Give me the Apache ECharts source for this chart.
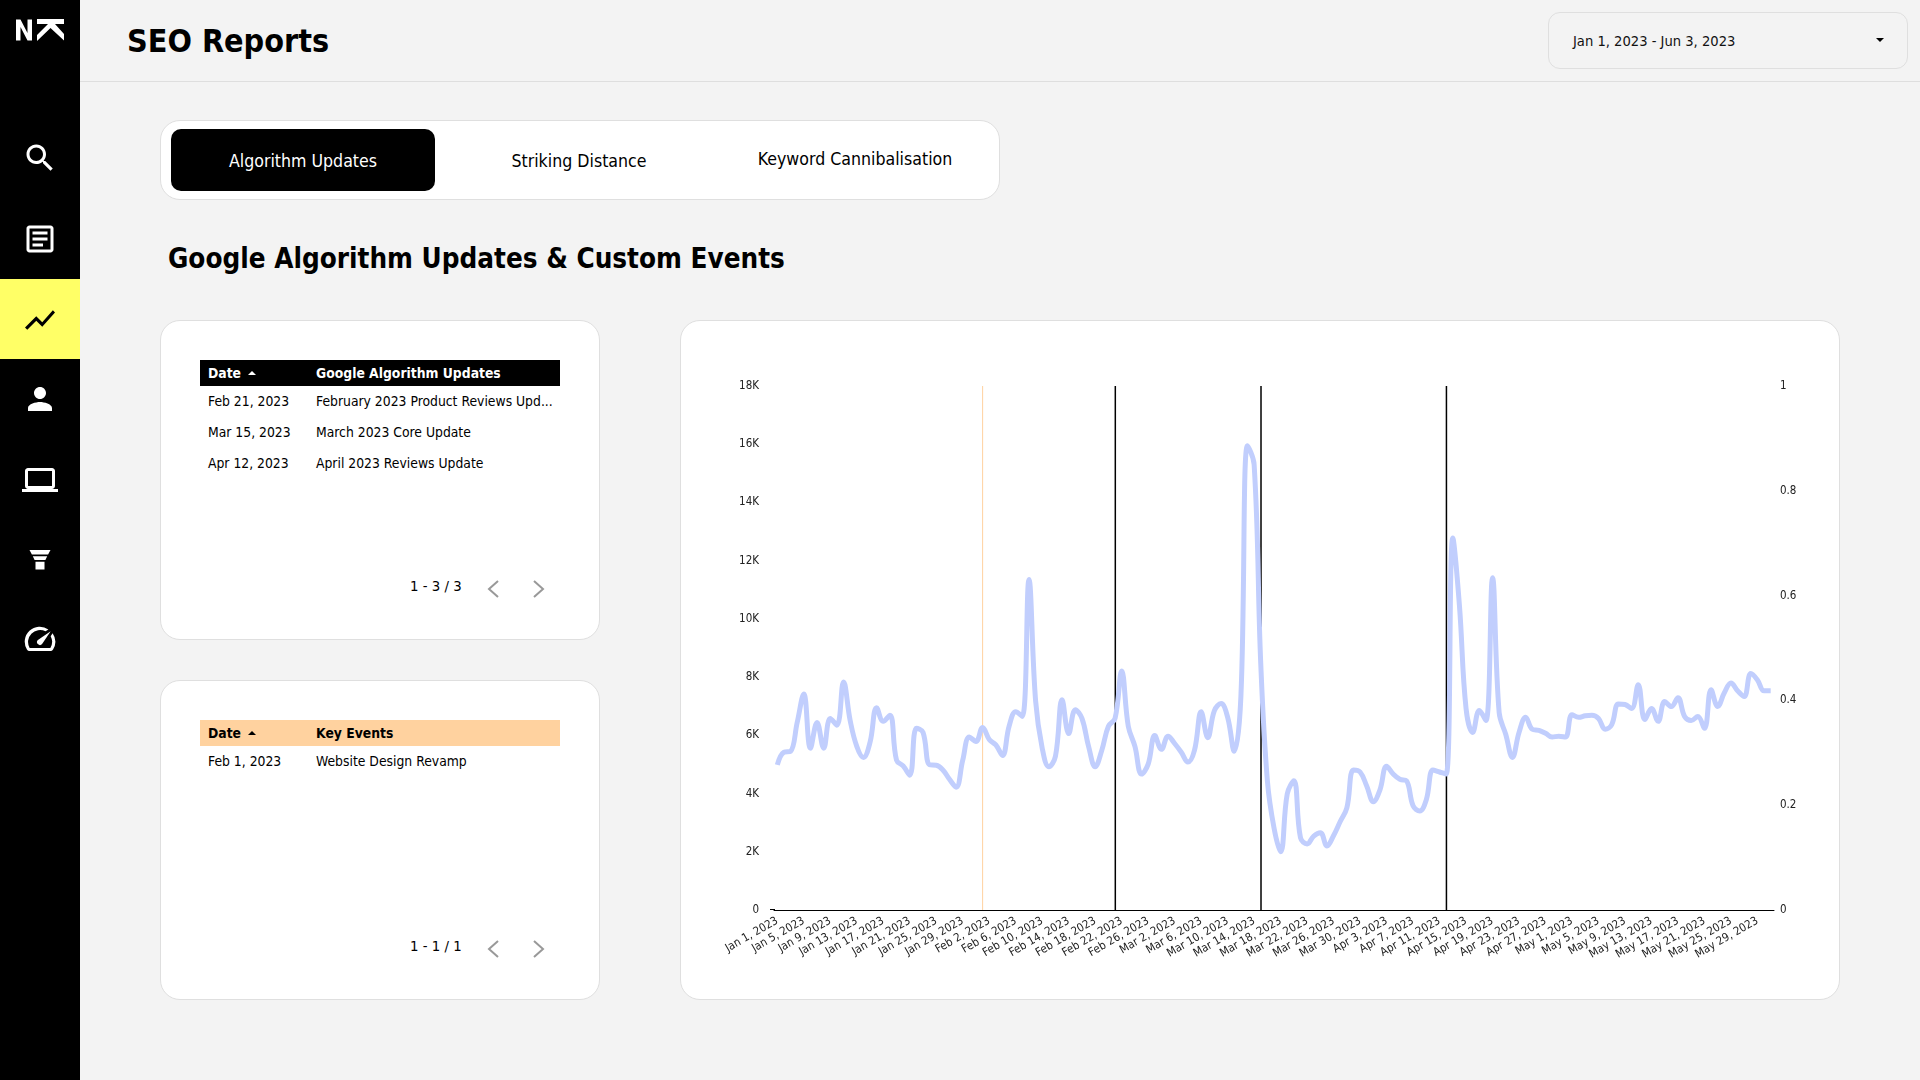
<!DOCTYPE html>
<html><head><meta charset="utf-8">
<script src="https://cdn.jsdelivr.net/npm/echarts@6/dist/echarts.min.js"></script>
<style>
html,body{margin:0;padding:0;width:1920px;height:1080px;overflow:hidden;background:#f3f3f3;font-family:'DejaVu Sans Condensed','DejaVu Sans',sans-serif;color:#000}
.a{position:absolute;white-space:nowrap}
.card{position:absolute;background:#fff;border:1.5px solid #dfdfdf;box-sizing:border-box;border-radius:20px}
.ic{position:absolute;left:22px;width:36px;height:36px;fill:#fff}
.cell{font-size:13.8px;line-height:18px}
.th{font-size:13.8px;font-weight:bold;line-height:18px}
.pg{font-size:14.8px;line-height:18px}
</style></head><body>
<div class="a" style="left:0;top:0;width:80px;height:1080px;background:#000"></div>
<div class="a" style="left:0;top:279px;width:80px;height:80px;background:#ffff66"></div>
<svg class="a" style="left:15px;top:18px" width="50" height="24" viewBox="0 0 50 24" fill="#fff">
<path d="M1 1.500h4.500l7 13.500V1.500h4.500v21h-4.500L5.500 9v13.500H1z"/><path d="M22 1h27v5H40l9 10v6.500L35.500 10 22 23v-6l11-11H22z"/></svg>
<svg class="ic" style="top:140px" viewBox="0 0 24 24"><path d="M15.500 14h-.79l-.28-.27C15.410 12.590 16 11.110 16 9.500 16 5.910 13.090 3 9.500 3S3 5.910 3 9.500 5.910 16 9.500 16c1.610 0 3.090-.59 4.230-1.570l.27.28v.79l5 4.990L20.490 19l-4.990-5zm-6 0C7.010 14 5 11.990 5 9.500S7.010 5 9.500 5 14 7.010 14 9.500 11.990 14 9.500 14z"/></svg>
<svg class="ic" style="top:221px" viewBox="0 0 24 24"><path d="M19 5v14H5V5h14m0-2H5c-1.100 0-2 .9-2 2v14c0 1.100.9 2 2 2h14c1.100 0 2-.9 2-2V5c0-1.100-.9-2-2-2zM14 17H7v-2h7v2zm3-4H7v-2h10v2zm0-4H7V7h10v2z"/></svg>
<svg class="ic" style="top:302px;fill:#000" viewBox="0 0 24 24"><path d="M3.500 18.490l6-6.010 4 4L22 6.920l-1.410-1.410-7.090 7.970-4-4L2 16.990z"/></svg>
<svg class="ic" style="top:381px" viewBox="0 0 24 24"><path d="M12 12c2.210 0 4-1.790 4-4s-1.790-4-4-4-4 1.790-4 4 1.790 4 4 4zm0 2c-2.670 0-8 1.340-8 4v2h16v-2c0-2.660-5.330-4-8-4z"/></svg>
<svg class="ic" style="top:462px" viewBox="0 0 24 24"><path d="M20 18c1.100 0 1.990-.9 1.990-2L22 6c0-1.100-.9-2-2-2H4c-1.100 0-2 .9-2 2v10c0 1.100.9 2 2 2H0v2h24v-2h-4zM4 6h16v10H4V6z"/></svg>
<svg class="ic" style="top:541px" viewBox="0 0 24 24"><path d="M5 6h14l-1.600 3H6.600zM7.200 10.200h9.600l-1.200 2.400H8.400zM9 13.800h6V19H9z"/></svg>
<svg class="ic" style="top:621px" viewBox="0 0 24 24"><path d="M20.400 8.200l-1.300 1.900a8 8 0 0 1-.2 7.900H5.100A8 8 0 0 1 15.700 6.900l1.900-1.300A10 10 0 0 0 3.300 19a2 2 0 0 0 1.800 1h13.800a2 2 0 0 0 1.800-1 10 10 0 0 0-.3-10.800z"/><path d="M10.600 15.400a2 2 0 0 0 2.800 0l5.700-8.500-8.500 5.700a2 2 0 0 0 0 2.800z"/></svg>

<div class="a" style="left:80px;top:81px;width:1840px;height:1px;background:#dedede"></div>
<div class="a" id="pageTitle" style="left:127px;top:21px;font-size:32px;font-weight:bold;line-height:40px">SEO Reports</div>
<div class="card" style="left:1548px;top:12px;width:360px;height:57px;border-radius:12px;background:#f3f3f3"></div>
<div class="a" style="left:1573px;top:32px;font-size:14.6px;line-height:18px;color:#111">Jan 1, 2023 - Jun 3, 2023</div>
<div class="a" style="left:1876px;top:38px;width:0;height:0;border-left:4px solid transparent;border-right:4px solid transparent;border-top:4px solid #000"></div>

<div class="card" style="left:160px;top:120px;width:840px;height:80px"></div>
<div class="a" style="left:171px;top:129px;width:264px;height:62px;background:#000;border-radius:10px"></div>
<div class="a" style="left:171px;top:150px;width:264px;text-align:center;color:#fff;font-size:17.6px;line-height:22px">Algorithm Updates</div>
<div class="a" style="left:447px;top:150px;width:264px;text-align:center;font-size:17.6px;line-height:22px">Striking Distance</div>
<div class="a" style="left:723px;top:148px;width:264px;text-align:center;font-size:17.6px;line-height:22px">Keyword Cannibalisation</div>
<div class="a" style="left:168px;top:241px;font-size:27.6px;font-weight:bold;line-height:36px">Google Algorithm Updates &amp; Custom Events</div>

<div class="card" style="left:160px;top:320px;width:440px;height:320px"></div>
<div class="a" style="left:200px;top:360px;width:360px;height:26px;background:#000"></div>
<div class="a th" style="left:208px;top:364px;color:#fff">Date</div>
<div class="a" style="left:248px;top:371px;width:0;height:0;border-left:4px solid transparent;border-right:4px solid transparent;border-bottom:4px solid #fff"></div>
<div class="a th" style="left:316px;top:364px;color:#fff">Google Algorithm Updates</div>
<div id="algoRows"></div>
<div class="a pg" style="left:410px;top:577px">1 - 3 / 3</div>
<svg class="a" style="left:485px;top:578px" width="64" height="22" fill="none" stroke="#999" stroke-width="2"><path d="M13 3l-9 8 9 8"/><path d="M49 3l9 8-9 8"/></svg>

<div class="card" style="left:160px;top:680px;width:440px;height:320px"></div>
<div class="a" style="left:200px;top:720px;width:360px;height:26px;background:#ffd29f"></div>
<div class="a th" style="left:208px;top:724px">Date</div>
<div class="a" style="left:248px;top:731px;width:0;height:0;border-left:4px solid transparent;border-right:4px solid transparent;border-bottom:4px solid #000"></div>
<div class="a th" style="left:316px;top:724px">Key Events</div>
<div id="eventRows"></div>
<div class="a pg" style="left:410px;top:937px">1 - 1 / 1</div>
<svg class="a" style="left:485px;top:938px" width="64" height="22" fill="none" stroke="#999" stroke-width="2"><path d="M13 3l-9 8 9 8"/><path d="M49 3l9 8-9 8"/></svg>

<div class="card" style="left:680px;top:320px;width:1160px;height:680px"></div>
<div class="a" style="left:770px;top:909px;width:5px;height:1px;background:#000"></div>
<div id="chart" class="a" style="left:681px;top:321px;width:1159px;height:679px"></div>
<script>
const categories=[
'Jan 1, 2023','Jan 2, 2023','Jan 3, 2023','Jan 4, 2023','Jan 5, 2023','Jan 6, 2023','Jan 7, 2023','Jan 8, 2023','Jan 9, 2023','Jan 10, 2023','Jan 11, 2023','Jan 12, 2023','Jan 13, 2023','Jan 14, 2023','Jan 15, 2023','Jan 16, 2023','Jan 17, 2023','Jan 18, 2023','Jan 19, 2023','Jan 20, 2023','Jan 21, 2023','Jan 22, 2023','Jan 23, 2023','Jan 24, 2023','Jan 25, 2023','Jan 26, 2023','Jan 27, 2023','Jan 28, 2023','Jan 29, 2023','Jan 30, 2023','Jan 31, 2023',
'Feb 1, 2023','Feb 2, 2023','Feb 3, 2023','Feb 4, 2023','Feb 5, 2023','Feb 6, 2023','Feb 7, 2023','Feb 8, 2023','Feb 9, 2023','Feb 10, 2023','Feb 11, 2023','Feb 12, 2023','Feb 13, 2023','Feb 14, 2023','Feb 15, 2023','Feb 16, 2023','Feb 17, 2023','Feb 18, 2023','Feb 19, 2023','Feb 20, 2023','Feb 21, 2023','Feb 22, 2023','Feb 23, 2023','Feb 24, 2023','Feb 25, 2023','Feb 26, 2023','Feb 27, 2023','Feb 28, 2023',
'Mar 1, 2023','Mar 2, 2023','Mar 3, 2023','Mar 4, 2023','Mar 5, 2023','Mar 6, 2023','Mar 7, 2023','Mar 8, 2023','Mar 9, 2023','Mar 10, 2023','Mar 11, 2023','Mar 12, 2023','Mar 13, 2023','Mar 14, 2023','Mar 15, 2023','Mar 16, 2023','Mar 17, 2023','Mar 18, 2023','Mar 19, 2023','Mar 20, 2023','Mar 21, 2023','Mar 22, 2023','Mar 23, 2023','Mar 24, 2023','Mar 25, 2023','Mar 26, 2023','Mar 27, 2023','Mar 28, 2023','Mar 29, 2023','Mar 30, 2023','Mar 31, 2023',
'Apr 1, 2023','Apr 2, 2023','Apr 3, 2023','Apr 4, 2023','Apr 5, 2023','Apr 6, 2023','Apr 7, 2023','Apr 8, 2023','Apr 9, 2023','Apr 10, 2023','Apr 11, 2023','Apr 12, 2023','Apr 13, 2023','Apr 14, 2023','Apr 15, 2023','Apr 16, 2023','Apr 17, 2023','Apr 18, 2023','Apr 19, 2023','Apr 20, 2023','Apr 21, 2023','Apr 22, 2023','Apr 23, 2023','Apr 24, 2023','Apr 25, 2023','Apr 26, 2023','Apr 27, 2023','Apr 28, 2023','Apr 29, 2023','Apr 30, 2023',
'May 1, 2023','May 2, 2023','May 3, 2023','May 4, 2023','May 5, 2023','May 6, 2023','May 7, 2023','May 8, 2023','May 9, 2023','May 10, 2023','May 11, 2023','May 12, 2023','May 13, 2023','May 14, 2023','May 15, 2023','May 16, 2023','May 17, 2023','May 18, 2023','May 19, 2023','May 20, 2023','May 21, 2023','May 22, 2023','May 23, 2023','May 24, 2023','May 25, 2023','May 26, 2023','May 27, 2023','May 28, 2023','May 29, 2023','May 30, 2023','May 31, 2023'];
const clicks=[4985,5420,5450,6440,7420,5560,6440,5560,6580,6350,7830,6510,5620,5240,5760,6950,6480,6690,5150,4950,4630,6240,6100,4985,4970,4810,4490,4220,5150,5940,5790,
6270,5860,5670,5310,6310,6810,6650,11350,7190,5560,4920,5280,7220,6060,6880,6580,5620,4920,5490,6310,6580,8210,6310,5620,4670,5010,5990,5520,
5970,5720,5420,5080,5490,6810,5920,6850,7090,6620,5450,7330,15950,15300,8460,4440,2820,2000,3990,4440,2480,2270,2540,2650,2200,2560,3040,3510,4810,4740,4260,
3720,4130,4940,4670,4490,4440,3580,3400,3790,4810,4740,4670,12780,10460,6920,6100,6850,6510,11410,6780,6030,5240,6100,6620,6210,6170,6070,5940,5970,5940,
6710,6620,6670,6690,6580,6210,6370,7080,7060,6920,7740,6540,6920,6480,7160,6990,7290,6650,6510,6650,6240,7570,6990,7460,7800,7530,7330,8120,7900,7530,7530];
const algorithmDates=['Feb 21, 2023','Mar 15, 2023','Apr 12, 2023'];
const algorithmNames=['February 2023 Product Reviews Upd...','March 2023 Core Update','April 2023 Reviews Update'];
const eventDates=['Feb 1, 2023'];
const eventNames=['Website Design Revamp'];

function rows(host,dates,names,top){
  dates.forEach((d,i)=>{
    const y=top+i*31;
    host.insertAdjacentHTML('beforeend',
    `<div class="a cell" style="left:208px;top:${y}px">${d}</div><div class="a cell" style="left:316px;top:${y}px">${names[i]}</div>`);
  });
}
rows(document.getElementById('algoRows'),algorithmDates,algorithmNames,392);
rows(document.getElementById('eventRows'),eventDates,eventNames,752);

const algoMarks=categories.map(c=>algorithmDates.includes(c)?1:null);
const eventMarks=categories.map(c=>eventDates.includes(c)?1:null);
const font="'DejaVu Sans Condensed','DejaVu Sans',sans-serif";
const chart=echarts.init(document.getElementById('chart'));
chart.setOption({
  animation:false,
  grid:{left:93,right:66,top:65,bottom:90},
  xAxis:{type:'category',data:categories,boundaryGap:true,
    axisLine:{lineStyle:{color:'#000',width:1}},axisTick:{show:false},
    axisLabel:{interval:3,rotate:30,fontSize:11.5,color:'#222',fontFamily:font,margin:10,hideOverlap:false}},
  yAxis:[
   {type:'value',min:0,max:18000,interval:2000,splitLine:{show:false},axisLine:{show:false},axisTick:{show:false},
    axisLabel:{fontSize:11.5,color:'#222',fontFamily:font,margin:15,formatter:v=>v===0?'0':(v/1000)+'K'}},
   {type:'value',min:0,max:1,interval:0.2,splitLine:{show:false},axisLine:{show:false},axisTick:{show:false},
    axisLabel:{fontSize:11.5,color:'#222',fontFamily:font,margin:6}}
  ],
  series:[
   {type:'bar',name:'Google Algorithm Updates',yAxisIndex:1,data:algoMarks,barWidth:1.5,barGap:'-100%',itemStyle:{color:'#000'},z:1},
   {type:'bar',name:'Key Events',yAxisIndex:1,data:eventMarks,barWidth:1,itemStyle:{color:'#ffd29f'},z:1},
   {type:'line',name:'Clicks',data:clicks,smooth:0.4,showSymbol:false,lineStyle:{color:'#c1cefd',width:5},z:3}
  ]
});
</script>
</body></html>
